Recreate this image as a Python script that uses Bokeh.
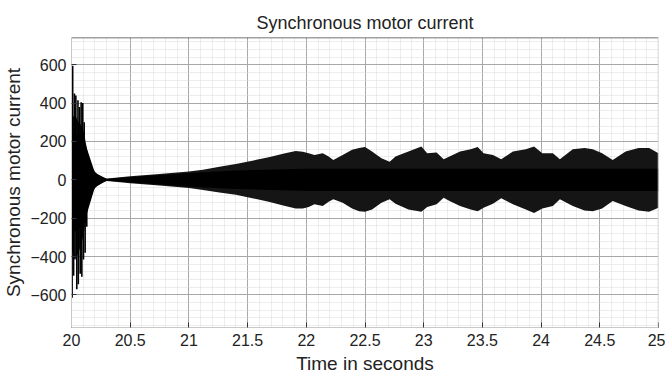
from bokeh.plotting import figure
from bokeh.models import Range1d, SingleIntervalTicker, ColumnDataSource, Span
from bokeh.embed import file_html
from bokeh.resources import INLINE

# Outer envelope of the synchronous motor current
time_s = [20.000, 20.015, 20.03, 20.045, 20.06, 20.075, 20.09, 20.105, 20.12, 20.135,
          20.15, 20.165, 20.18, 20.20, 20.22, 20.24, 20.27, 20.30, 20.35, 20.5,
          20.75, 21.0, 21.12, 21.26, 21.40, 21.54, 21.68, 21.82, 21.91, 21.97,
          22.02, 22.07, 22.14, 22.19, 22.23, 22.31, 22.39, 22.45, 22.50, 22.56,
          22.64, 22.71, 22.76, 22.87, 22.98, 23.03, 23.11, 23.17, 23.22, 23.31,
          23.40, 23.46, 23.51, 23.59, 23.66, 23.76, 23.87, 23.94, 24.01, 24.10,
          24.16, 24.27, 24.37, 24.44, 24.52, 24.61, 24.72, 24.83, 24.92, 25.0]
current_upper = [300, 330, 340, 320, 300, 290, 280, 250, 200, 150,
                 110, 80, 60, 42, 30, 22, 12, 6, 9, 18,
                 30, 44, 53, 68, 82, 100, 117, 139, 150, 146,
                 139, 130, 139, 121, 103, 130, 157, 166, 171, 148,
                 112, 94, 121, 148, 174, 139, 142, 107, 121, 148,
                 160, 171, 139, 130, 107, 148, 160, 174, 139, 139,
                 107, 160, 166, 160, 139, 103, 148, 166, 166, 139]
current_lower = [-350, -400, -420, -400, -380, -350, -320, -280, -220, -160,
                 -115, -85, -62, -44, -32, -24, -12, -6, -9, -18,
                 -30, -43, -53, -66, -78, -96, -114, -137, -150, -150,
                 -142, -128, -137, -114, -101, -119, -150, -164, -167, -155,
                 -119, -101, -125, -155, -167, -142, -128, -93, -110, -137,
                 -155, -164, -146, -125, -96, -128, -155, -173, -150, -137,
                 -101, -137, -160, -164, -150, -110, -137, -160, -167, -146]

# Solid core of the band
core_t = [20.0, 20.1, 20.2, 20.3, 20.6, 21.0, 21.4, 21.8, 22.0, 25.0]
core_upper = [250, 220, 35, 5, 18, 36, 48, 55, 58, 58]
core_lower = [-280, -240, -38, -5, -18, -36, -48, -55, -58, -58]

# Start-up transient spikes
spike_t = [20.003, 20.010, 20.025, 20.037, 20.055, 20.068, 20.082, 20.096, 20.108,
           20.005, 20.018, 20.045, 20.058, 20.074, 20.088, 20.102, 20.116, 20.130]
spike_v = [260, 595, 450, 440, 415, 380, 405, 400, 300,
           -615, -500, -570, -545, -490, -505, -415, -380, -245]

x_ticks_interval = 0.5
y_ticks_interval = 200

FONT = "Liberation Sans"

env = ColumnDataSource(dict(t=time_s, up=current_upper, lo=current_lower))
core = ColumnDataSource(dict(t=core_t, up=core_upper, lo=core_lower))
spk = ColumnDataSource(dict(t=spike_t, v=spike_v, z=[0] * len(spike_t)))

p = figure(width=665, height=376, output_backend="svg", toolbar_location=None,
           x_range=Range1d(20, 25), y_range=Range1d(-770, 742),
           min_border_left=68, min_border_right=7, min_border_top=37, min_border_bottom=45,
           title="Synchronous motor current")

p.title.align = "center"
p.title.text_font = FONT
p.title.text_font_size = "18px"
p.title.text_font_style = "normal"
p.title.text_color = "#222222"

p.varea(x="t", y1="lo", y2="up", source=env, fill_color="#151515")
p.varea(x="t", y1="lo", y2="up", source=core, fill_color="black")
p.segment(x0="t", y0="z", x1="t", y1="v", source=spk, line_color="black", line_width=1.6)

p.xaxis.ticker = SingleIntervalTicker(interval=x_ticks_interval, num_minor_ticks=5)
p.yaxis.ticker = SingleIntervalTicker(interval=y_ticks_interval, num_minor_ticks=5)

for ax in (p.xaxis[0], p.yaxis[0]):
    ax.major_label_text_font = FONT
    ax.major_label_text_font_size = "16px"
    ax.major_label_text_color = "#222222"
    ax.axis_label_text_font = FONT
    ax.axis_label_text_font_size = "19px"
    ax.axis_label_text_font_style = "normal"
    ax.axis_label_text_color = "#222222"
    ax.axis_line_color = "#c8c8c8"
    ax.major_tick_in = 5
    ax.major_tick_out = 0
    ax.minor_tick_in = 0
    ax.minor_tick_out = 0
    ax.major_tick_line_color = "#333333"

p.xaxis.axis_label = "Time in seconds"
p.yaxis.axis_label = "Synchronous motor current"
p.xaxis.major_label_standoff = 6
p.xaxis.axis_label_standoff = 4
p.xaxis.axis_label_text_line_height = 0.9
p.yaxis.major_label_standoff = 5
p.yaxis.axis_label_standoff = 3
p.xaxis.major_label_overrides = {20: "20", 21: "21", 22: "22", 23: "23", 24: "24", 25: "25"}

p.outline_line_color = None
p.add_layout(Span(location=742, dimension="width", line_color="#444444", line_width=1.5))
p.add_layout(Span(location=25, dimension="height", line_color="#c8c8c8", line_width=1.5))

for g in (p.xgrid[0], p.ygrid[0]):
    g.grid_line_color = "#a8a8a8"
    g.grid_line_width = 1
    g.minor_grid_line_color = "#dadada"
    g.minor_grid_line_dash = "1 1"
    g.minor_grid_line_width = 1

open("out.html", "w").write(file_html(p, INLINE))
